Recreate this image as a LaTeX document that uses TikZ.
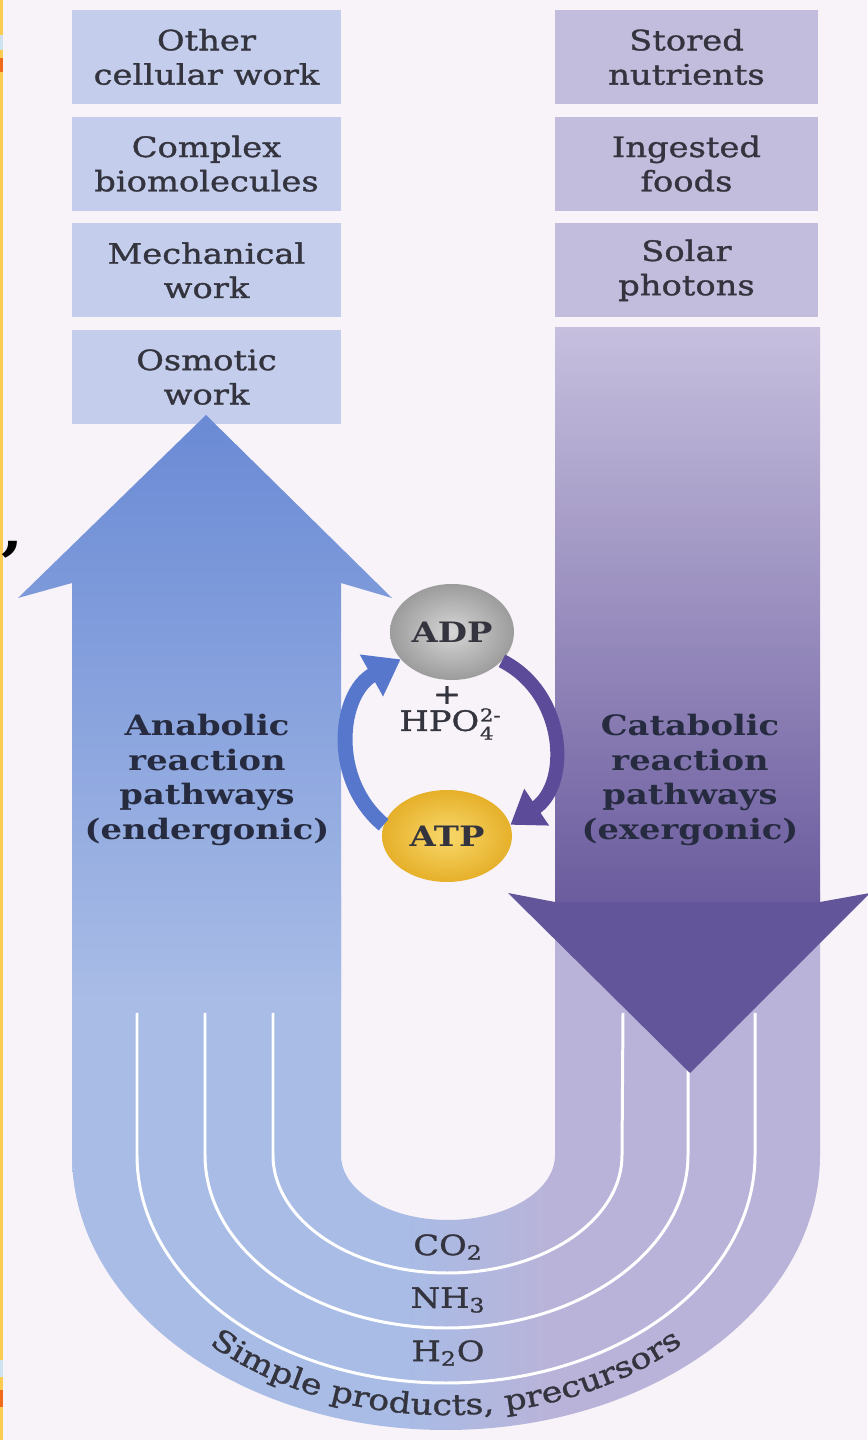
\documentclass[tikz,border=0pt]{standalone}
\usepackage{fontspec}
\setmainfont{DejaVu Serif}[FakeStretch=1.2]
\newfontfamily\heavyserif{DejaVu Serif}[FakeStretch=1.2, FakeBold=1.2]
\usepackage{tikz}
\usetikzlibrary{positioning, arrows.meta, shapes.geometric, decorations.text}
\usepackage{xcolor}

\definecolor{bgpaper}{HTML}{F8F3F8}
\definecolor{boxblue}{HTML}{C4CEEC}
\definecolor{boxlav}{HTML}{C3BDDD}
\definecolor{ublue}{HTML}{A8BCE6}
\definecolor{ulav}{HTML}{B9B3D9}
\definecolor{arrowblue}{HTML}{6A8AD5}
\definecolor{catlight}{HTML}{C6BFDE}
\definecolor{catdark}{HTML}{6B5C9E}
\definecolor{headdark}{HTML}{62559A}
\definecolor{cycblue}{HTML}{5677CC}
\definecolor{cycpurple}{HTML}{5B4B98}
\definecolor{adplight}{HTML}{D6D6D6}
\definecolor{adpdark}{HTML}{9C9C9C}
\definecolor{atplight}{HTML}{F8D86A}
\definecolor{atpdark}{HTML}{E6B02A}
\definecolor{inkgray}{HTML}{34343F}
\definecolor{inknavy}{HTML}{262B40}
\definecolor{stripyel}{HTML}{FDCB50}
\definecolor{stripora}{HTML}{F26A1B}
\definecolor{stripblue}{HTML}{CFE3EE}

\pgfdeclarehorizontalshading{ushade}{100bp}{color(0bp)=(ublue); color(47bp)=(ublue); color(57bp)=(ulav); color(100bp)=(ulav)}

\newcommand{\boxfont}{\heavyserif\fontsize{16}{19.5}\selectfont}
\newcommand{\pathfont}{\fontsize{16}{19.8}\selectfont\bfseries}

\begin{document}
\begin{tikzpicture}[x=0.02cm, y=0.02cm,
    lbox/.style={rectangle, fill=boxblue, minimum width=5.38cm, minimum height=1.88cm,
        inner sep=0pt, align=center, font=\boxfont, text=inkgray},
    rbox/.style={lbox, fill=boxlav, minimum width=5.26cm},
    pathlabel/.style={align=center, font=\pathfont, text=inknavy},
    chem/.style={font=\boxfont, text=inkgray, inner sep=1pt},
    nucleo/.style={ellipse, inner sep=0pt, font=\pathfont, text=inkgray},
    cycL/.style={line width=8.5pt, draw=cycblue, -{Triangle[width=26pt, length=19pt]}},
    cycR/.style={line width=8pt, draw=cycpurple, -{Triangle[width=24pt, length=18pt]}},
    sep/.style={white, line width=1.7pt}]

    % Paper
    \fill[bgpaper] (0,0) rectangle (867,1440);
    \useasboundingbox (0,0) rectangle (867,1440);

    % U band of simple products
    \shade[shading=ushade] (72,547) -- (72,285)
        arc[start angle=180, end angle=360, x radius=374, y radius=275]
        -- (820,547) -- (555,547) -- (555,285)
        arc[start angle=0, end angle=-180, x radius=107, y radius=65]
        -- (341,285) -- (341,547) -- cycle;

    % White separators
    \draw[sep] (137,427) -- (137,285) arc[start angle=180, end angle=360, x radius=309, y radius=228] -- (755,427);
    \draw[sep] (205,427) -- (205,285) arc[start angle=180, end angle=360, x radius=241.5, y radius=173] -- (688,427);
    \draw[sep] (273,427) -- (273,285) arc[start angle=180, end angle=360, x radius=174.5, y radius=118] -- (623,427);

    % Boxes, left column
    \node[lbox] (other) at (206.5,1383) {Other\\cellular work};
    \node[lbox, below=0.24cm of other] (complex) {Complex\\biomolecules};
    \node[lbox, below=0.24cm of complex] (mech) {Mechanical\\work};
    \node[lbox, below=0.24cm of mech] (osmotic) {Osmotic\\work};

    % Boxes, right column
    \node[rbox] (stored) at (686.5,1383) {Stored\\nutrients};
    \node[rbox, below=0.24cm of stored] (ingested) {Ingested\\foods};
    \node[rbox, below=0.24cm of ingested] (solar) {Solar\\photons};

    % Anabolic arrow (up)
    \shade[bottom color=ublue, top color=arrowblue] (72,440) -- (72,857) -- (18,842)
        -- (206,1025) -- (392,842) -- (341,857) -- (341,440) -- cycle;

    % Catabolic arrow (down)
    \shade[top color=catlight, bottom color=catdark] (555,538) rectangle (820,1112);
    \fill[headdark] (555,538) -- (508,547) -- (690,367) -- (870,547) -- (820,538) -- cycle;

    % ADP / ATP cycle
    \node[nucleo, minimum width=2.48cm, minimum height=1.92cm,
        inner color=adplight, outer color=adpdark] (adp) at (452,808) {ADP};
    \node[nucleo, minimum width=2.6cm, minimum height=1.84cm,
        inner color=atplight, outer color=atpdark] (atp) at (447,604) {ATP};
    \draw[cycL] (atp.170) to[out=140, in=209, looseness=1.09] (adp.208);
    \draw[cycR] (adp.-30) to[out=-27, in=34, looseness=1.13] (atp.10);
    \node[chem] (plus) at (447,745) {+};
    \node[chem] (hpo) at (450,716) {HPO\kern0.5pt\raisebox{-5pt}{\fontsize{10}{10}\selectfont\shortstack[l]{2-\\4}}};

    % Pathway labels
    \node[pathlabel] (anabolic) at (207,660) {Anabolic\\reaction\\pathways\\(endergonic)};
    \node[pathlabel] (catabolic) at (690,660) {Catabolic\\reaction\\pathways\\(exergonic)};

    % Simple products
    \node[chem] (co2) at (448,193) {CO\textsubscript{2}};
    \node[chem] (nh3) at (448,140) {NH\textsubscript{3}};
    \node[chem] (h2o) at (448,87) {H\textsubscript{2}O};
    \path[decorate, decoration={text along path, text align=center, text color=inkgray,
        text={|\heavyserif\fontsize{16.5}{19}\selectfont|Simple products, precursors}}]
        (446,285) ++(195:345 and 260) arc[start angle=195, end angle=345, x radius=345, y radius=260];

    % Page edge
    \fill[stripyel] (0,0) rectangle (3,1440);
    \fill[stripora] (0,1368) rectangle (3,1382);
    \fill[stripblue] (0,1390) rectangle (3,1405);
    \fill[stripblue] (0,63) rectangle (3,80);
    \fill[stripora] (0,33) rectangle (3,50);
    \node[anchor=base west, inner sep=0pt, font=\fontsize{30}{30}\selectfont\bfseries] (comma) at (1,890) {,};

\end{tikzpicture}
\end{document}
